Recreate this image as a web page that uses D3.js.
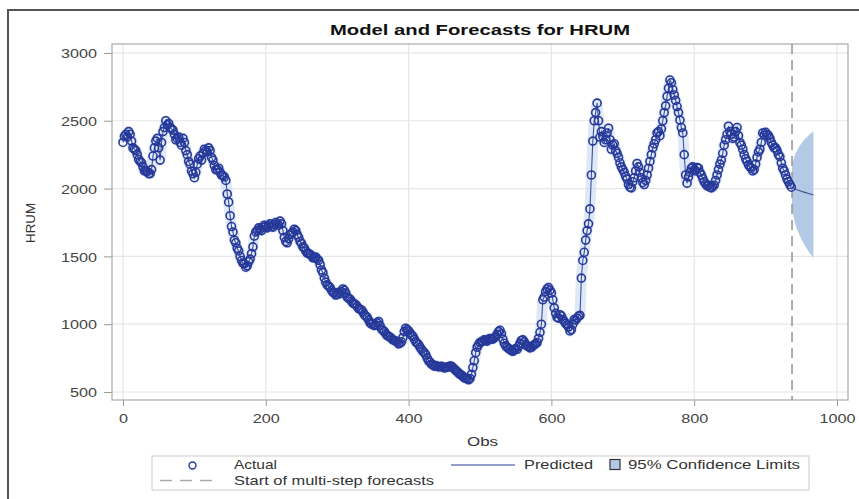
<!DOCTYPE html>
<html>
<head>
<meta charset="utf-8">
<script src="https://cdn.jsdelivr.net/npm/d3@7"></script>
<style>
  body { margin: 0; background: #fff; }
  text { font-family: "Liberation Sans", Arial, sans-serif; fill: #333; }
</style>
</head>
<body>
<svg id="chart" width="859" height="499"></svg>
<script>
// --------------------------------------
// data
// --------------------------------------

// actual series at obs 0, 4, 8, ...
var obsStep = 4;
var actualEven = [
    2340, 2400, 2420, 2350, 2290, 2250, 2200, 2160, 2130, 2110,
    2140, 2300, 2370, 2210, 2420, 2500, 2480, 2440, 2400, 2370,
    2340, 2370, 2280, 2200, 2130, 2080, 2180, 2240, 2260, 2280,
    2300, 2230, 2170, 2140, 2120, 2095, 2060, 1900, 1720, 1620,
    1560, 1500, 1450, 1420, 1460, 1520, 1650, 1690, 1700, 1715,
    1720, 1725, 1720, 1735, 1740, 1760, 1690, 1610, 1630, 1670,
    1700, 1660, 1610, 1570, 1540, 1520, 1505, 1490, 1480, 1440,
    1380, 1310, 1280, 1250, 1230, 1220, 1225, 1260, 1230, 1190,
    1170, 1150, 1130, 1110, 1090, 1060, 1030, 1000, 990, 1010,
    990, 955, 930, 910, 895, 880, 868, 860, 900, 970,
    950, 920, 890, 860, 830, 800, 775, 730, 705, 690,
    690, 688, 682, 680, 685, 690, 670, 650, 630, 615,
    600, 590, 630, 730, 830, 865, 875, 880, 888, 892,
    900, 925, 955, 890, 840, 820, 805, 810, 815, 860,
    885, 850, 835, 830, 850, 865, 940, 1180, 1240, 1270,
    1230, 1120, 1050, 1070, 1035, 1005, 980, 960, 1035, 1045,
    1065, 1470, 1620, 1740, 2100, 2500, 2630, 2380, 2385, 2360,
    2445, 2290, 2330, 2260, 2190, 2140, 2090, 2030, 2005, 2080,
    2185, 2120, 2045, 2060, 2150, 2250, 2330, 2410, 2390, 2500,
    2610, 2740, 2780, 2690, 2605, 2505, 2410, 2100, 2085, 2150,
    2140, 2155, 2120, 2075, 2035, 2025, 2005, 2025, 2100, 2180,
    2260, 2360, 2460, 2400, 2380, 2450, 2340, 2290, 2220, 2175,
    2150, 2140, 2230, 2290, 2410, 2415, 2390, 2340, 2300, 2280,
    2235, 2150, 2100, 2050, 2010
];
// actual series at obs 2, 6, 10, ...
var actualOdd = [
    2385, 2380, 2400, 2300, 2280, 2215, 2190, 2130, 2125, 2110,
    2240, 2350, 2300, 2340, 2450, 2470, 2450, 2430, 2360, 2380,
    2320, 2340, 2250, 2180, 2110, 2120, 2220, 2210, 2290, 2270,
    2280, 2210, 2140, 2150, 2100, 2085, 1960, 1800, 1680, 1600,
    1540, 1470, 1445, 1430, 1480, 1570, 1680, 1710, 1690, 1730,
    1710, 1740, 1715, 1750, 1730, 1740, 1640, 1600, 1660, 1680,
    1690, 1640, 1595, 1560, 1525, 1515, 1490, 1495, 1470, 1400,
    1340, 1290, 1270, 1235, 1215, 1235, 1240, 1250, 1200, 1185,
    1155, 1145, 1115, 1105, 1070, 1050, 1010, 1005, 995, 1020,
    965, 945, 915, 905, 885, 875, 855, 870, 945, 960,
    935, 910, 870, 850, 815, 790, 750, 720, 700, 695,
    685, 690, 678, 684, 692, 680, 660, 640, 625, 605,
    598, 600, 680, 790, 850, 870, 885, 875, 895, 890,
    910, 945, 930, 860, 830, 815, 800, 820, 835, 880,
    870, 840, 825, 840, 855, 895, 1000, 1200, 1260, 1250,
    1180, 1080, 1045, 1060, 1020, 995, 950, 1000, 1030, 1060,
    1340, 1530, 1690, 1850, 2350, 2560, 2500, 2420, 2340, 2410,
    2360, 2320, 2280, 2230, 2160, 2120, 2070, 2010, 2050, 2130,
    2160, 2080, 2030, 2100, 2200, 2300, 2360, 2420, 2440, 2560,
    2680, 2800, 2730, 2650, 2560, 2450, 2250, 2040, 2120, 2160,
    2130, 2150, 2100, 2050, 2020, 2010, 2015, 2060, 2140, 2210,
    2320, 2400, 2420, 2370, 2420, 2390, 2320, 2250, 2200, 2160,
    2130, 2180, 2270, 2340, 2395, 2400, 2370, 2320, 2300, 2250,
    2190, 2130, 2070, 2030
];

// multi-step forecast
var forecastStart = 937;
var forecastObs    = [937, 940, 943, 946, 949, 952, 955, 958, 961, 964, 967];
var forecastValues = [2010, 2000, 1993, 1987, 1982, 1977, 1972, 1967, 1962, 1958, 1953];
var forecastUpper  = [2170, 2230, 2270, 2300, 2325, 2345, 2365, 2380, 2395, 2410, 2420];
var forecastLower  = [1850, 1770, 1715, 1675, 1640, 1610, 1580, 1555, 1530, 1510, 1490];

var xTicks = [0, 200, 400, 600, 800, 1000];
var yTicks = [500, 1000, 1500, 2000, 2500, 3000];

// --------------------------------------
// layout
// --------------------------------------

var svg = d3.select("#chart");
var plot = {left: 112, right: 848, top: 44, bottom: 400};
var blue = "#26399a";

var x = d3.scaleLinear().domain([-15.4, 1015.4]).range([plot.left, plot.right]);
var y = d3.scaleLinear().domain([441, 3066]).range([plot.bottom, plot.top]);

var actual = [];
actualEven.forEach(function(v, i) { actual.push({obs: i * obsStep, value: v}); });
actualOdd.forEach(function(v, i) { actual.push({obs: i * obsStep + obsStep / 2, value: v}); });
actual.sort(function(a, b) { return a.obs - b.obs; });

var forecast = forecastObs.map(function(o, i) {
    return {obs: o, value: forecastValues[i], upper: forecastUpper[i], lower: forecastLower[i]};
});

// outer frame of the graph
svg.append("path")
    .attr("d", "M8,520V10H880")
    .attr("fill", "none")
    .attr("stroke", "#555")
    .attr("stroke-width", 2);

// title
svg.append("text")
    .attr("x", 330).attr("y", 35)
    .attr("textLength", 300).attr("lengthAdjust", "spacingAndGlyphs")
    .style("font-size", "14px").style("font-weight", "bold").style("fill", "#111")
    .text("Model and Forecasts for HRUM");

// grid lines
var grid = svg.append("g");
grid.selectAll("line.gx").data(xTicks).enter().append("line")
    .attr("x1", d => x(d)).attr("x2", d => x(d))
    .attr("y1", plot.top).attr("y2", plot.bottom)
    .attr("stroke", "#e6e6e6").attr("stroke-width", 1.2);
grid.selectAll("line.gy").data(yTicks).enter().append("line")
    .attr("y1", d => y(d)).attr("y2", d => y(d))
    .attr("x1", plot.left).attr("x2", plot.right)
    .attr("stroke", "#e6e6e6").attr("stroke-width", 1.2);

// axes
var xAxis = svg.append("g")
    .attr("transform", "translate(0," + plot.bottom + ")")
    .call(d3.axisBottom(x).tickValues(xTicks).tickFormat(d3.format("d")).tickSize(6).tickSizeOuter(0));
var yAxis = svg.append("g")
    .attr("transform", "translate(" + plot.left + ",0)")
    .call(d3.axisLeft(y).tickValues(yTicks).tickFormat(d3.format("d")).tickSize(8).tickSizeOuter(0));

[xAxis, yAxis].forEach(function(a) {
    a.select(".domain").remove();
    a.selectAll(".tick line").attr("stroke", "#999");
    a.selectAll(".tick text")
        .style("font-size", "13.5px").style("font-family", null).style("fill", "#444");
});
xAxis.selectAll(".tick text").attr("y", 0).attr("dy", null)
    .attr("transform", "translate(0,23) scale(1.2,1)");
yAxis.selectAll(".tick text").attr("x", 0).attr("dy", "0.35em")
    .attr("transform", "translate(-15,0) scale(1.2,1)");

// plot frame
svg.append("rect")
    .attr("x", plot.left).attr("y", plot.top)
    .attr("width", plot.right - plot.left).attr("height", plot.bottom - plot.top)
    .attr("fill", "none").attr("stroke", "#aaa").attr("stroke-width", 1.2);

// axis labels
svg.append("text")
    .attr("x", 467).attr("y", 446)
    .attr("textLength", 31).attr("lengthAdjust", "spacingAndGlyphs")
    .style("font-size", "13px")
    .text("Obs");
svg.append("text")
    .attr("transform", "translate(35,243) rotate(-90)")
    .attr("textLength", 40).attr("lengthAdjust", "spacingAndGlyphs")
    .style("font-size", "13px")
    .text("HRUM");

// confidence band for the forecast
svg.append("path")
    .datum(forecast)
    .attr("fill", "#b3c9e6")
    .attr("d", d3.area()
        .x(d => x(d.obs))
        .y0(d => y(d.lower))
        .y1(d => y(d.upper))
        .curve(d3.curveMonotoneX));

// start of multi-step forecasts
svg.append("line")
    .attr("x1", x(forecastStart)).attr("x2", x(forecastStart))
    .attr("y1", plot.top).attr("y2", plot.bottom)
    .attr("stroke", "#999").attr("stroke-width", 1.6)
    .attr("stroke-dasharray", "10,6");

// predicted line
var line = d3.line().x(d => x(d.obs)).y(d => y(d.value));
svg.append("path")
    .datum(actual)
    .attr("fill", "none").attr("stroke", "#c8d8f0").attr("stroke-width", 11)
    .attr("stroke-linejoin", "round").attr("opacity", 0.6)
    .attr("d", line);
svg.append("path")
    .datum(actual)
    .attr("fill", "none").attr("stroke", "#3d4f9f").attr("stroke-width", 1.1)
    .attr("d", line);
svg.append("path")
    .datum(forecast)
    .attr("fill", "none").attr("stroke", "#3d4f80").attr("stroke-width", 1.1)
    .attr("d", line);

// actual points
svg.append("g").selectAll("circle").data(actual).enter().append("circle")
    .attr("cx", d => x(d.obs)).attr("cy", d => y(d.value))
    .attr("r", 4)
    .attr("fill", "none").attr("stroke", blue).attr("stroke-width", 1.6);

// legend
var lg = svg.append("g");
lg.append("rect")
    .attr("x", 152).attr("y", 456).attr("width", 657).attr("height", 34)
    .attr("fill", "#fff").attr("stroke", "#ccc");
lg.append("circle")
    .attr("cx", 192.5).attr("cy", 465.5).attr("r", 3.5)
    .attr("fill", "none").attr("stroke", blue).attr("stroke-width", 1.4);
lg.append("text").attr("x", 234).attr("y", 469)
    .attr("textLength", 43).attr("lengthAdjust", "spacingAndGlyphs")
    .style("font-size", "13px").text("Actual");
lg.append("line")
    .attr("x1", 451).attr("x2", 515).attr("y1", 465).attr("y2", 465)
    .attr("stroke", "#6f7cb8").attr("stroke-width", 1.3);
lg.append("text").attr("x", 524).attr("y", 469)
    .attr("textLength", 69).attr("lengthAdjust", "spacingAndGlyphs")
    .style("font-size", "13px").text("Predicted");
lg.append("rect")
    .attr("x", 610).attr("y", 459.5).attr("width", 10).attr("height", 10)
    .attr("fill", "#b3c9e6").attr("stroke", "#333").attr("stroke-width", 1.2);
lg.append("text").attr("x", 628).attr("y", 469)
    .attr("textLength", 172).attr("lengthAdjust", "spacingAndGlyphs")
    .style("font-size", "13px").text("95% Confidence Limits");
lg.append("line")
    .attr("x1", 160).attr("x2", 217).attr("y1", 480.5).attr("y2", 480.5)
    .attr("stroke", "#aaa").attr("stroke-width", 1.3)
    .attr("stroke-dasharray", "12,8");
lg.append("text").attr("x", 234).attr("y", 485)
    .attr("textLength", 200).attr("lengthAdjust", "spacingAndGlyphs")
    .style("font-size", "13px").text("Start of multi-step forecasts");
</script>
</body>
</html>
